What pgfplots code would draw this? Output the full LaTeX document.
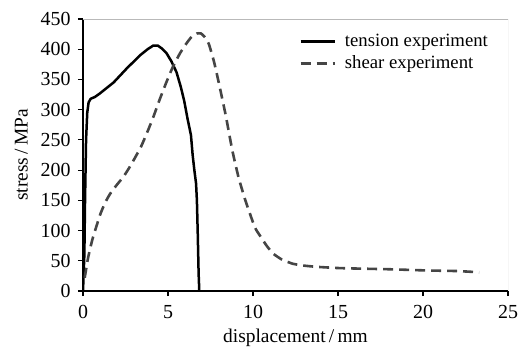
\documentclass[border=0pt]{standalone}
\usepackage{fontspec}
\setmainfont{Liberation Serif}
\usepackage{pgfplots}
\pgfplotsset{compat=1.18}
\definecolor{sheargray}{HTML}{454545}
\begin{document}
\fontsize{19}{22}\selectfont
\begin{tikzpicture}
\begin{axis}[name=ax, scale only axis, width=425bp, height=272bp,
  xmin=0, xmax=25, ymin=0, ymax=450,
  axis lines*=left,
  axis line style={-, line width=1.5bp, black},
  xtick={0,5,...,25}, ytick={0,50,...,450},
  tick align=outside, tick style={black, line width=1.2bp}, major tick length=5bp,
  /pgf/number format/assume math mode=true,
  tick label style={font=\fontsize{20}{23}\selectfont},
  xticklabel style={yshift=-3bp},
  yticklabel style={xshift=-1bp},
  label style={font=\fontsize{19.5}{22}\selectfont},
  xlabel={displacement\,/\,mm}, ylabel={stress\,/\,MPa},
  xlabel style={yshift=2.5bp}, ylabel style={yshift=0bp},
  legend style={draw=none, fill=none, at={(0.965,0.96)}, anchor=north east, row sep=2.5bp,
    font=\fontsize{18.8}{21}\selectfont},
  legend cell align=left,
  legend image code/.code={\draw[#1] (0bp,0bp) -- (34bp,0bp); \path (41bp,0bp);},
]
\draw[gray!55, line width=0.8bp] (rel axis cs:0,1) -- (rel axis cs:1,1) -- (rel axis cs:1,0);
\addplot[black, line width=2.5bp, line join=round] coordinates {
(0,0) (0.08,60) (0.12,150) (0.18,250) (0.25,295) (0.33,312) (0.45,318) (0.7,321)
(1.0,327) (1.4,336) (1.8,345) (2.2,357) (2.6,369) (3.0,380) (3.4,391) (3.8,400)
(4.13,406) (4.4,406) (4.65,401) (4.9,394) (5.2,380) (5.5,362) (5.75,338) (5.95,315)
(6.15,285) (6.35,258) (6.45,225) (6.55,200) (6.65,178) (6.7,150) (6.75,95) (6.8,30) (6.84,0)
};
\addlegendentry{tension experiment}
\addplot[sheargray, line width=2.6bp, dash pattern=on 10bp off 6bp, smooth, tension=0.3] coordinates {
(0.1,22) (0.3,55) (0.54,84) (0.8,108) (1.03,128) (1.3,146) (1.6,161) (2.0,176)
(2.38,189) (2.7,203) (2.97,216) (3.4,238) (3.74,260) (4.1,285) (4.5,316) (4.9,345)
(5.29,371) (5.7,393) (6.07,409) (6.4,421) (6.7,426) (6.94,426) (7.2,419) (7.4,409)
(7.7,380) (8.0,343) (8.4,290) (8.78,233) (9.15,188) (9.55,150) (10.1,106) (10.4,92)
(10.8,75) (11.18,62) (11.7,52) (12.35,45) (13.0,42) (13.73,40) (15,38) (16.3,37)
(18,36) (20.2,34) (22,33) (23.3,31)
};
\addlegendentry{shear experiment}
\end{axis}
\pgfresetboundingbox
\path ([shift={(-83bp,-58bp)}]ax.south west) rectangle ([shift={(15bp,19bp)}]ax.north east);
\end{tikzpicture}
\end{document}
